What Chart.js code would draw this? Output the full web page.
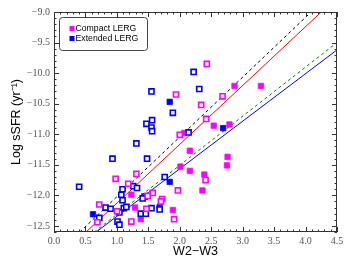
<!DOCTYPE html>
<html>
<head>
<meta charset="utf-8">
<script src="https://cdn.jsdelivr.net/npm/chart.js@4/dist/chart.umd.min.js"></script>
<style>
  html, body { margin: 0; padding: 0; background: #fff; }
</style>
</head>
<body>
<canvas id="c" width="352" height="264"></canvas>
<script>
// W2-W3 colour vs log sSFR, compact / extended LERGs
const xTicks = [0.0, 0.5, 1.0, 1.5, 2.0, 2.5, 3.0, 3.5, 4.0, 4.5];
const yTicks = [-12.5, -12.0, -11.5, -11.0, -10.5, -10.0, -9.5, -9.0];

const compactFilled = [
  [2.87, -10.21], [3.29, -10.21], [2.54, -10.86], [2.79, -10.84], [2.07, -10.98],
  [2.16, -11.27], [2.76, -11.37], [2.75, -11.51], [2.16, -11.60], [2.01, -11.53],
  [2.39, -11.66], [2.36, -11.92], [1.23, -11.99], [1.29, -12.20], [1.38, -12.39],
  [1.89, -12.24]
];
const compactOpen = [
  [2.43, -9.85], [1.94, -10.35], [2.68, -10.38], [2.34, -10.52], [2.42, -10.75],
  [2.00, -11.01], [0.98, -11.73], [1.31, -11.65], [1.18, -11.81], [0.72, -12.15],
  [1.23, -12.43], [0.69, -12.44], [1.57, -11.96], [1.49, -12.01], [1.72, -12.06],
  [1.70, -12.10], [1.97, -11.92], [1.91, -12.39], [2.41, -11.75], [1.00, -12.26],
  [1.47, -12.22]
];
const extendedFilled = [
  [1.84, -10.47], [2.69, -10.90], [1.84, -11.78], [0.62, -12.31], [1.03, -12.27],
  [1.68, -12.19]
];
const extendedOpen = [
  [2.22, -9.98], [2.31, -10.26], [1.55, -10.30], [1.89, -10.65], [1.56, -10.77],
  [1.47, -10.83], [1.55, -10.89], [1.56, -10.95], [2.14, -10.97], [1.31, -11.15],
  [0.93, -11.40], [1.48, -11.40], [0.40, -11.86], [1.09, -11.90], [1.07, -11.99],
  [1.09, -12.08], [1.26, -11.85], [1.32, -11.88], [1.76, -11.70], [1.44, -12.02],
  [1.41, -12.05], [0.82, -12.20], [0.90, -12.22], [1.11, -12.21], [1.15, -12.19],
  [1.04, -12.28], [0.72, -12.37], [1.01, -12.43], [1.04, -12.48], [1.38, -12.30],
  [1.46, -12.30], [1.55, -12.21], [1.68, -12.23]
];

// relation lines, end points
const lineBlack = [[0.41, -12.6], [4.09, -9.0]];
const lineRed = [[0.51, -12.6], [4.25, -9.0]];
const lineGreen = [[0.64, -12.6], [4.5, -9.5]];
const lineBlue = [[0.67, -12.6], [4.5, -9.62]];

const MAGENTA = '#ff00ff';
const BLUE = '#0000ff';

const pts = arr => arr.map(([x, y]) => ({ x, y }));

function markers(data, color, filled) {
  return {
    type: 'scatter',
    data: pts(data),
    pointStyle: 'rect',
    pointRadius: filled ? 3.8 : 3.6,
    borderWidth: filled ? 0.8 : 1.6,
    borderColor: color,
    backgroundColor: filled ? color : '#fff',
    order: 1
  };
}

function relLine(data, color, dash) {
  return {
    type: 'line',
    data: pts(data),
    borderColor: color,
    borderWidth: 1,
    borderDash: dash,
    pointRadius: 0,
    fill: false,
    order: 10
  };
}

const fmt = v => (v < 0 ? '\u2212' : '') + Math.abs(v).toFixed(1);

const frame = {
  id: 'frame',
  afterDraw(chart) {
    const { ctx, chartArea: a, scales: { x, y } } = chart;
    ctx.save();
    ctx.strokeStyle = '#333';
    ctx.lineWidth = 1;
    ctx.strokeRect(a.left + 0.5, a.top + 0.5, a.right - a.left - 1, a.bottom - a.top - 1);
    ctx.beginPath();
    for (let i = 0; i <= 45; i++) {
      const px = Math.round(x.getPixelForValue(i / 10)) + 0.5;
      const len = i % 5 === 0 ? 5 : 2.5;
      ctx.moveTo(px, a.bottom); ctx.lineTo(px, a.bottom - len);
      ctx.moveTo(px, a.top); ctx.lineTo(px, a.top + len);
    }
    for (let i = -126; i <= -90; i++) {
      const py = Math.round(y.getPixelForValue(i / 10)) + 0.5;
      const len = i % 5 === 0 ? 5 : 2.5;
      ctx.moveTo(a.left, py); ctx.lineTo(a.left + len, py);
      ctx.moveTo(a.right, py); ctx.lineTo(a.right - len, py);
    }
    ctx.stroke();

    // legend box
    const bx = a.left + 5.5, by = a.top + 5.5, bw = 88, bh = 33;
    ctx.fillStyle = '#fff';
    ctx.beginPath();
    ctx.roundRect(bx, by, bw, bh, 3);
    ctx.fill();
    ctx.strokeStyle = '#444';
    ctx.stroke();
    const items = [['Compact LERG', MAGENTA], ['Extended LERG', BLUE]];
    ctx.font = '8.7px "Liberation Sans", Arial, sans-serif';
    ctx.textBaseline = 'middle';
    items.forEach(([label, col], k) => {
      const cy = by + 11 + k * 10;
      ctx.fillStyle = col;
      ctx.fillRect(bx + 10, cy - 2.5, 5, 5);
      ctx.fillStyle = '#000';
      ctx.fillText(label, bx + 16, cy + 0.5);
    });
    ctx.restore();
  }
};

new Chart(document.getElementById('c'), {
  type: 'scatter',
  data: {
    datasets: [
      relLine(lineBlack, '#000', [3, 3]),
      relLine(lineRed, '#ff0000', []),
      relLine(lineGreen, '#008000', [3, 3]),
      relLine(lineBlue, '#0000ff', []),
      markers(compactOpen, MAGENTA, false),
      markers(extendedOpen, BLUE, false),
      markers(compactFilled, MAGENTA, true),
      markers(extendedFilled, BLUE, true)
    ]
  },
  options: {
    responsive: false,
    animation: false,
    layout: { padding: { top: 12, right: 15, left: 0, bottom: 0 } },
    plugins: { legend: { display: false }, tooltip: { enabled: false } },
    scales: {
      x: {
        type: 'linear',
        min: 0, max: 4.5,
        afterBuildTicks: s => { s.ticks = xTicks.map(v => ({ value: v })); },
        afterFit: s => { s.height = 32; },
        grid: { display: false, drawTicks: false },
        border: { display: false },
        ticks: {
          padding: 3,
          color: '#555',
          font: { family: '"Liberation Serif", "DejaVu Serif", serif', size: 10 },
          callback: v => fmt(v),
          maxRotation: 0
        },
        title: {
          display: true,
          text: 'W2\u2212W3',
          color: '#000',
          font: { family: '"Liberation Sans", Arial, sans-serif', size: 12.5 },
          padding: { top: 0, bottom: 4.5 }
        }
      },
      y: {
        type: 'linear',
        min: -12.6, max: -9.0,
        afterBuildTicks: s => { s.ticks = yTicks.map(v => ({ value: v })); },
        afterFit: s => { s.width = 54; },
        grid: { display: false, drawTicks: false },
        border: { display: false },
        ticks: {
          padding: 4,
          color: '#555',
          font: { family: '"Liberation Serif", "DejaVu Serif", serif', size: 10 },
          callback: v => fmt(v)
        },
        title: {
          display: true,
          text: 'Log sSFR (yr\u207B\u00B9)',
          color: '#000',
          font: { family: '"Liberation Sans", Arial, sans-serif', size: 12.5 },
          padding: { top: 9, bottom: 0 }
        }
      }
    }
  },
  plugins: [frame]
});
</script>
</body>
</html>
